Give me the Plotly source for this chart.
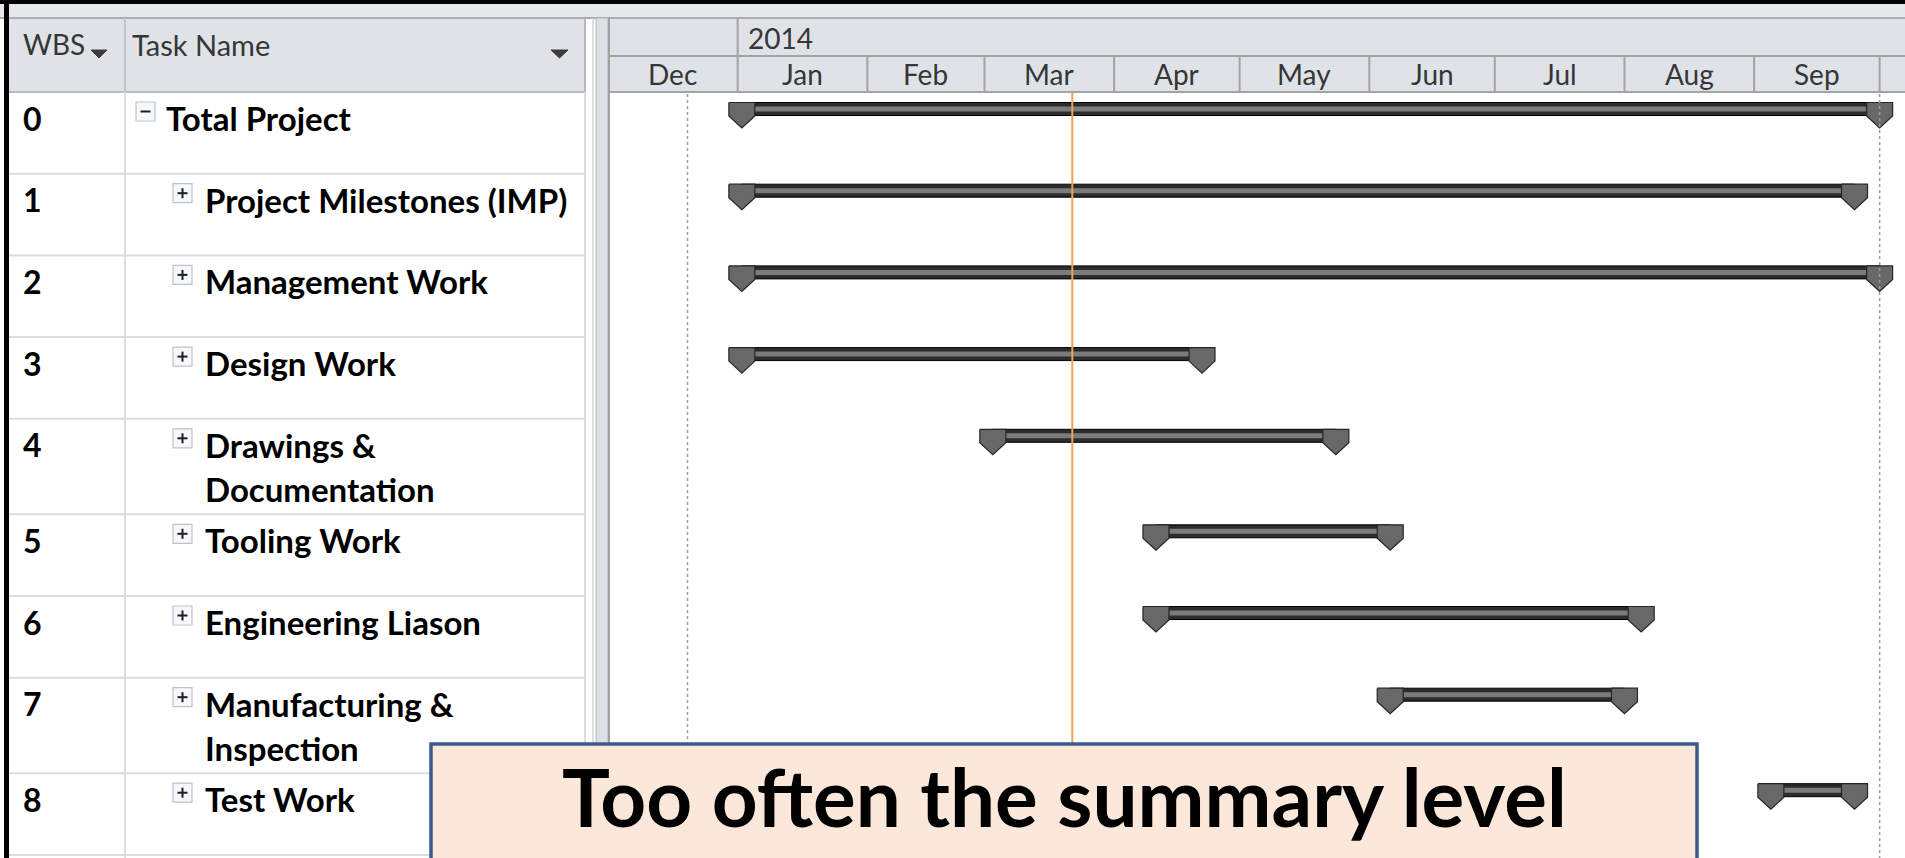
import plotly.graph_objects as go
import pandas as pd

# ---------------- data ----------------
wbs_codes = ["0", "1", "2", "3", "4", "5", "6", "7", "8"]
task_names = [
    "Total Project",
    "Project Milestones (IMP)",
    "Management Work",
    "Design Work",
    "Drawings &\nDocumentation",
    "Tooling Work",
    "Engineering Liason",
    "Manufacturing &\nInspection",
    "Test Work",
]
outline_levels = [0, 1, 1, 1, 1, 1, 1, 1, 1]
start_dates = ["2014-01-02", "2014-01-02", "2014-01-02", "2014-01-02", "2014-03-03",
               "2014-04-11", "2014-04-11", "2014-06-06", "2014-09-05"]
finish_dates = ["2014-10-01", "2014-09-25", "2014-10-01", "2014-04-22", "2014-05-24",
                "2014-06-06", "2014-08-05", "2014-08-01", "2014-09-25"]
month_labels = ["Dec", "Jan", "Feb", "Mar", "Apr", "May", "Jun", "Jul", "Aug", "Sep"]
month_starts = ["2013-12-01", "2014-01-01", "2014-02-01", "2014-03-01", "2014-04-01",
                "2014-05-01", "2014-06-01", "2014-07-01", "2014-08-01", "2014-09-01",
                "2014-10-01"]
year_label = "2014"
year_start = "2014-01-01"
status_date = "2014-03-22"
marker_dates = ["2013-12-20", "2014-10-01"]
header_labels = ["WBS", "Task Name"]
callout_text = "Too often the summary level"

# ---------------- layout constants (pixels) ----------------
W, H = 1905, 858
FONT = "Lato"
GANTT_X0 = 608
PX_PER_DAY = 4.183
AXIS_START = pd.Timestamp("2013-12-01")
AXIS_END = AXIS_START + pd.Timedelta(days=(W - GANTT_X0) / PX_PER_DAY)
TOP_BORDER = 4
HEADER_TOP = 18
TIMESCALE_MID = 56
HEADER_BOTTOM = 92
COL_WBS_X = 125
COL_TASK_X = 585
ROW_H1, ROW_H2 = 81.7, 95.5


def px(x):
    return x / W


def py(y):
    return 1 - y / H


def prect(x0, y0, x1, y1, fill, line=None, lw=0, layer="below"):
    return dict(type="rect", xref="paper", yref="paper", x0=px(x0), x1=px(x1),
                y0=py(y1), y1=py(y0), fillcolor=fill,
                line=dict(color=line if line else fill, width=lw), layer=layer)


def pline(x0, y0, x1, y1, color, lw=1, dash="solid", layer="below"):
    return dict(type="line", xref="paper", yref="paper", x0=px(x0), x1=px(x1),
                y0=py(y0), y1=py(y1), line=dict(color=color, width=lw, dash=dash), layer=layer)


# row geometry
row_tops = []
t = HEADER_BOTTOM
for name in task_names:
    row_tops.append(t)
    t += ROW_H2 if "\n" in name else ROW_H1
row_bottoms = [rt + (ROW_H2 if "\n" in n else ROW_H1) for rt, n in zip(row_tops, task_names)]
bar_y = [rt + 17 for rt in row_tops]

fig = go.Figure()

# ---------------- gantt bars ----------------
starts = pd.to_datetime(start_dates)
finishes = pd.to_datetime(finish_dates)
durations_ms = [(f - s).total_seconds() * 1000 for s, f in zip(starts, finishes)]

fig.add_trace(go.Bar(orientation="h", y=bar_y, x=durations_ms, base=start_dates, width=13,
                     marker=dict(color="#2c2c2c", line=dict(color="#000000", width=1)),
                     hoverinfo="skip", showlegend=False))
fig.add_trace(go.Bar(orientation="h", y=bar_y, x=durations_ms, base=start_dates, width=5,
                     marker=dict(color="#7c7c7c", line=dict(width=0)),
                     hoverinfo="skip", showlegend=False))

half = pd.Timedelta(days=13 / PX_PER_DAY)
cap_x, cap_y = [], []
for s, f, yc in zip(starts, finishes, bar_y):
    for d in (s, f):
        cap_x += [d - half, d + half, d + half, d, d - half, d - half, None]
        cap_y += [yc - 6.5, yc - 6.5, yc + 7, yc + 19, yc + 7, yc - 6.5, None]
fig.add_trace(go.Scatter(x=cap_x, y=cap_y, mode="lines", fill="toself",
                         fillcolor="#686868", line=dict(color="#262626", width=1.2),
                         hoverinfo="skip", showlegend=False))

shapes = []
annotations = []

# ---------------- frame / header backgrounds ----------------
shapes.append(prect(0, 0, W, TOP_BORDER, "#000000"))
shapes.append(prect(0, TOP_BORDER, W, HEADER_TOP, "#E4E7EB"))
shapes.append(prect(8, HEADER_TOP, COL_TASK_X, HEADER_BOTTOM, "#DFE3E8"))
shapes.append(prect(GANTT_X0, HEADER_TOP, W, HEADER_BOTTOM, "#DFE3E8"))
shapes.append(pline(0, HEADER_TOP, W, HEADER_TOP, "#A9ADB2", 2))
shapes.append(pline(8, HEADER_BOTTOM, COL_TASK_X, HEADER_BOTTOM, "#B9BDC2", 2))
shapes.append(pline(GANTT_X0, HEADER_BOTTOM, W, HEADER_BOTTOM, "#A3A3A3", 2))
shapes.append(pline(GANTT_X0, TIMESCALE_MID, W, TIMESCALE_MID, "#A3A3A3", 2))

# table grid
for rb in row_bottoms:
    shapes.append(pline(8, rb, COL_TASK_X, rb, "#DADCDE", 2))
shapes.append(pline(COL_WBS_X, HEADER_TOP, COL_WBS_X, HEADER_BOTTOM, "#C2C6CB", 2))
shapes.append(pline(COL_WBS_X, HEADER_BOTTOM, COL_WBS_X, H, "#DADCDE", 2))
shapes.append(pline(COL_TASK_X, HEADER_TOP, COL_TASK_X, HEADER_BOTTOM, "#B5B9BE", 2))
shapes.append(pline(COL_TASK_X, HEADER_BOTTOM, COL_TASK_X, H, "#DADCDE", 2))
shapes.append(pline(593, HEADER_TOP, 593, H, "#D2D4D7", 1.5))
# splitter bar
shapes.append(prect(596, HEADER_TOP, 608, H, "#DDE0E4", "#B4B7BB", 1))
shapes.append(pline(609, HEADER_TOP, 609, H, "#A0A0A0", 2))

# left black border
shapes.append(prect(4, 0, 9, H, "#000000"))

# timescale lines
for ms in month_starts:
    shapes.append(dict(type="line", xref="x", yref="paper", x0=ms, x1=ms,
                       y0=py(HEADER_BOTTOM), y1=py(TIMESCALE_MID),
                       line=dict(color="#A3A3A3", width=2), layer="below"))
shapes.append(dict(type="line", xref="x", yref="paper", x0=year_start, x1=year_start,
                   y0=py(TIMESCALE_MID), y1=py(HEADER_TOP),
                   line=dict(color="#A3A3A3", width=2), layer="below"))

# dotted markers and status line
for md in marker_dates:
    shapes.append(dict(type="line", xref="x", yref="paper", x0=md, x1=md,
                       y0=py(HEADER_BOTTOM + 2), y1=py(H),
                       line=dict(color="#9C9C9C", width=1.5, dash="dot"), layer="above"))
shapes.append(dict(type="line", xref="x", yref="paper", x0=status_date, x1=status_date,
                   y0=py(HEADER_BOTTOM + 1), y1=py(H),
                   line=dict(color="#F4A05A", width=2), layer="above"))

# header dropdown arrows
for (ax0, ax1) in [(91, 107), (551, 568)]:
    shapes.append(dict(type="path", xref="paper", yref="paper",
                       path=f"M {px(ax0)} {py(50)} L {px(ax1)} {py(50)} L {px((ax0 + ax1) / 2)} {py(58)} Z",
                       fillcolor="#3C3C3C", line=dict(color="#3C3C3C", width=1), layer="above"))

# expand/collapse boxes
for lvl, rt in zip(outline_levels, row_tops):
    bx0 = 136 if lvl == 0 else 173
    by0 = rt + 10
    bs = 19
    shapes.append(prect(bx0, by0, bx0 + bs, by0 + bs, "#F7F8FA", "#B9C3CD", 1.2, "above"))
    cx, cy = bx0 + bs / 2, by0 + bs / 2
    shapes.append(pline(cx - 5, cy, cx + 5, cy, "#1E1E1E", 2, layer="above"))
    if lvl > 0:
        shapes.append(pline(cx, cy - 5, cx, cy + 5, "#1E1E1E", 2, layer="above"))

# callout box
shapes.append(prect(431, 744, 1697, 910, "#FCE8DA", "#3B5B8C", 3.5, "above"))

# ---------------- text ----------------
def ann(text, x, y, size, color="#000000", bold=False, xanchor="left", xref="paper"):
    return dict(text=f"<b>{text}</b>" if bold else text,
                x=px(x) if xref == "paper" else x, y=py(y), xref=xref, yref="paper",
                xanchor=xanchor, yanchor="middle", showarrow=False,
                font=dict(family=FONT, size=size, color=color))


annotations.append(ann(header_labels[0], 21, 44, 28, "#363636"))
annotations.append(ann(header_labels[1], 130, 44, 29, "#363636"))

for i, ms in enumerate(month_labels):
    a = pd.Timestamp(month_starts[i])
    b = pd.Timestamp(month_starts[i + 1])
    mid = a + (b - a) / 2
    annotations.append(ann(ms, mid, 74, 28, "#363636", xanchor="center", xref="x"))
yr = ann(year_label, year_start, 38, 28, "#363636", xref="x")
yr["xshift"] = 8
annotations.append(yr)

for code, name, lvl, rt in zip(wbs_codes, task_names, outline_levels, row_tops):
    annotations.append(ann(code, 21, rt + 26, 32, bold=True))
    nx = 164 if lvl == 0 else 203
    for k, line in enumerate(name.split("\n")):
        annotations.append(ann(line, nx, rt + 26 + 44 * k, 33, bold=True))

annotations.append(ann(callout_text, 1064, 796, 80, bold=True, xanchor="center"))

fig.update_layout(
    width=W, height=H,
    margin=dict(l=0, r=0, t=0, b=0),
    paper_bgcolor="#FFFFFF", plot_bgcolor="#FFFFFF",
    barmode="overlay",
    showlegend=False,
    xaxis=dict(type="date", domain=[px(GANTT_X0), 1], range=[AXIS_START, AXIS_END],
               visible=False, showgrid=False, fixedrange=True),
    yaxis=dict(domain=[0, 1], range=[H, 0], visible=False, showgrid=False, fixedrange=True),
    shapes=shapes,
    annotations=annotations,
)

fig.write_html(
    "out.html",
    config={"displayModeBar": False},
    post_script="document.body.style.margin='0px';document.body.style.overflow='hidden';",
)
